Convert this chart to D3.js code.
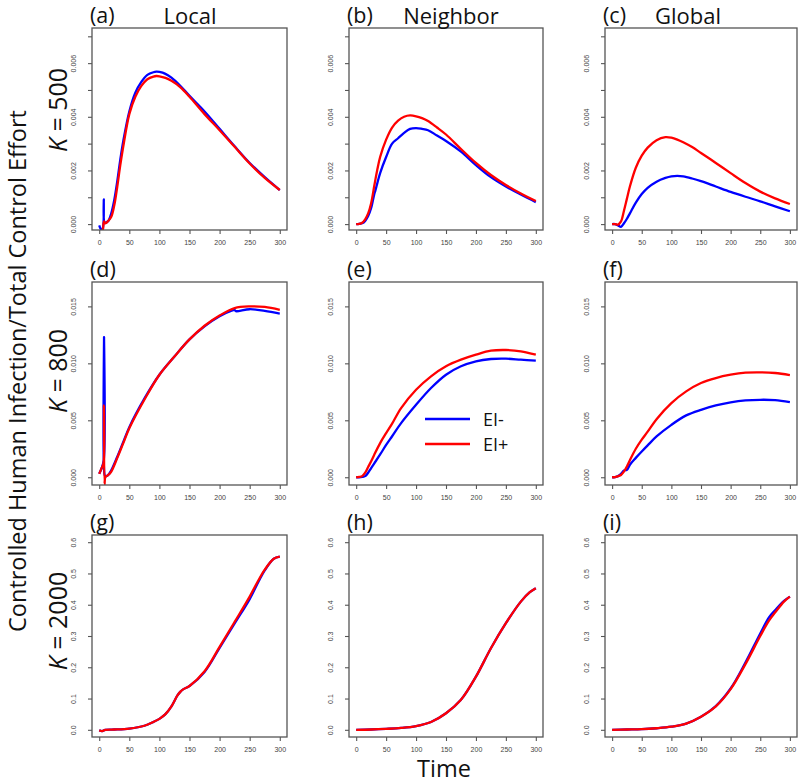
<!DOCTYPE html>
<html>
<head>
<meta charset="utf-8">
<script src="https://cdn.jsdelivr.net/npm/d3@7"></script>
<style>
  body { margin: 0; background: #fff; }
  .tick-lab { font-family: "Liberation Sans", Arial, sans-serif; font-size: 7px; fill: #444; }
  .big { font-family: "Open Sans", sans-serif; fill: #111; }
</style>
</head>
<body>
<div class="canva"></div>
<script>
// ---- data ----
const colTitles = ["Local", "Neighbor", "Global"];
const rowLabels = ["500", "800", "2000"];
const panelLetters = ["a", "b", "c", "d", "e", "f", "g", "h", "i"];
const xTicks = [0, 50, 100, 150, 200, 250, 300];
const yTicksRow1 = [0, 0.001, 0.002, 0.003, 0.004, 0.005, 0.006, 0.007];
const yLabelsRow1 = [0, 0.002, 0.004, 0.006];
const yTicksRow2 = [0, 0.005, 0.010, 0.015];
const yTicksRow3 = [0, 0.1, 0.2, 0.3, 0.4, 0.5, 0.6];
const legendNames = ["EI-", "EI+"];

// (a) Local, K = 500
const tBlueA = [0, 3, 5, 7, 7.6, 8.2, 10, 13, 16, 20, 25, 30, 35, 40, 50, 60, 70, 80, 90, 95, 100, 110, 120, 135, 150, 175, 200, 225, 250, 275, 300];
const blueA = [-0.00005, -0.0002, -0.0002, 0.0, 0.00092, 0.0001, 0.00005, 0.00008, 0.00015, 0.0004, 0.0009, 0.0016, 0.0024, 0.0031, 0.0042, 0.0049, 0.0053, 0.00556, 0.00566, 0.00568, 0.00567, 0.0056, 0.00546, 0.00515, 0.00478, 0.0042, 0.00355, 0.0029, 0.00228, 0.00175, 0.00127];
const tRedA = [4, 6, 7, 8, 9, 10, 12, 15, 20, 25, 30, 35, 40, 50, 60, 70, 80, 90, 95, 100, 110, 120, 135, 150, 175, 200, 225, 250, 275, 300];
const redA = [-0.0002, -0.0002, 0.0, 0.0001, 0.00005, 0.00003, 0.00005, 0.00012, 0.00027, 0.0007, 0.0014, 0.0022, 0.0029, 0.0041, 0.00475, 0.00515, 0.0054, 0.0055, 0.00552, 0.00551, 0.00545, 0.00534, 0.0051, 0.00475, 0.0041, 0.0035, 0.00288, 0.00226, 0.00172, 0.00127];

// (b) Neighbor, K = 500
const tB = [0, 5, 10, 15, 20, 25, 30, 32, 35, 40, 50, 60, 70, 80, 90, 100, 110, 120, 135, 150, 175, 200, 225, 250, 275, 300];
const blueB = [0, 0.00001, 0.00003, 0.00012, 0.0003, 0.0006, 0.0011, 0.00125, 0.0015, 0.0019, 0.0025, 0.003, 0.0032, 0.0034, 0.00355, 0.00358, 0.00355, 0.0035, 0.0033, 0.0031, 0.0027, 0.0022, 0.00175, 0.0014, 0.0011, 0.00082];
const redB = [0, 0.00001, 0.00005, 0.00018, 0.0004, 0.00078, 0.0014, 0.00165, 0.002, 0.0025, 0.00315, 0.0036, 0.00386, 0.004, 0.00405, 0.00402, 0.00395, 0.00384, 0.0036, 0.00334, 0.0028, 0.00228, 0.00183, 0.00146, 0.00114, 0.00086];

// (c) Global, K = 500
const tC = [0, 5, 10, 15, 20, 25, 30, 40, 50, 60, 75, 90, 100, 110, 120, 135, 150, 175, 200, 225, 250, 275, 300];
const blueC = [0, 0, -0.00005, -0.0001, 0.00003, 0.0002, 0.0004, 0.0008, 0.00112, 0.00135, 0.00158, 0.00172, 0.00178, 0.0018, 0.00178, 0.0017, 0.0016, 0.0014, 0.0012, 0.00102, 0.00085, 0.00066, 0.00048];
const redC = [0, 0, -0.00002, 0.0001, 0.0005, 0.00095, 0.0014, 0.0021, 0.00255, 0.00285, 0.00313, 0.00324, 0.00322, 0.00315, 0.00305, 0.00287, 0.00265, 0.00228, 0.0019, 0.00153, 0.00121, 0.00096, 0.00075];

// (d) Local, K = 800
const tBlueD = [0, 4, 7.5, 8, 8.6, 10, 12, 15, 20, 30, 40, 50, 75, 100, 125, 150, 175, 200, 220, 225, 227, 250, 275, 300];
const blueD = [0.0003, 0.0008, 0.0015, 0.0123, 0.0003, 0.0001, 0.0001, 0.0002, 0.0006, 0.0018, 0.0031, 0.0044, 0.0069, 0.009, 0.0106, 0.0121, 0.01325, 0.01413, 0.01462, 0.01468, 0.01458, 0.01475, 0.0146, 0.01437];
const tRedD = [0, 4, 7, 7.8, 8.8, 10, 12, 15, 20, 30, 40, 50, 75, 100, 125, 150, 175, 200, 225, 250, 275, 300];
const redD = [0.0003, 0.0008, 0.0012, 0.0063, -0.0006, 0.0, 0.0001, 0.0002, 0.0005, 0.0017, 0.003, 0.0043, 0.0068, 0.009, 0.0106, 0.0121, 0.0133, 0.0142, 0.01485, 0.015, 0.01495, 0.0147];

// (e) Neighbor, K = 800
const tE = [0, 5, 10, 15, 20, 25, 30, 40, 50, 60, 75, 100, 125, 150, 175, 200, 225, 250, 275, 300];
const blueE = [0, 0, 0.00003, 0.0001, 0.0004, 0.0008, 0.0012, 0.002, 0.00284, 0.0036, 0.00475, 0.00636, 0.00783, 0.009, 0.00974, 0.01018, 0.01038, 0.01041, 0.01032, 0.01023];
const redE = [0, 0.00003, 0.0001, 0.0004, 0.0009, 0.0014, 0.00196, 0.003, 0.00387, 0.0047, 0.00607, 0.00768, 0.00886, 0.00974, 0.01032, 0.01076, 0.01111, 0.01117, 0.01106, 0.01076];

// (f) Global, K = 800
const tF = [0, 5, 10, 15, 20, 25, 30, 40, 50, 60, 75, 100, 125, 150, 175, 200, 225, 250, 275, 300];
const blueF = [0, 0.00002, 0.0001, 0.0003, 0.0006, 0.00065, 0.0011, 0.0017, 0.00226, 0.0028, 0.00358, 0.0046, 0.00543, 0.00592, 0.0063, 0.00657, 0.00674, 0.0068, 0.00677, 0.0066];
const redF = [0, 0.00002, 0.0001, 0.0002, 0.0005, 0.00095, 0.0015, 0.0025, 0.0033, 0.004, 0.0051, 0.00651, 0.00754, 0.00827, 0.00871, 0.009, 0.00918, 0.00921, 0.00915, 0.00897];

// (g) Local, K = 2000
const tG = [0, 5, 10, 25, 50, 75, 90, 100, 110, 120, 130, 135, 140, 150, 175, 200, 225, 250, 265, 275, 290, 300];
const blueG = [-0.002, -0.004, 0, 0.001, 0.004, 0.013, 0.025, 0.035, 0.05, 0.075, 0.11, 0.122, 0.13, 0.14, 0.185, 0.262, 0.34, 0.418, 0.475, 0.51, 0.547, 0.554];
const redG = [-0.002, -0.004, 0, 0.001, 0.004, 0.013, 0.025, 0.035, 0.05, 0.075, 0.11, 0.122, 0.13, 0.14, 0.187, 0.265, 0.345, 0.426, 0.48, 0.512, 0.547, 0.554];

// (h) Neighbor, K = 2000
const tH = [0, 25, 50, 75, 100, 125, 150, 175, 200, 225, 250, 275, 290, 300];
const blueH = [0, 0.001, 0.003, 0.006, 0.012, 0.025, 0.053, 0.096, 0.17, 0.261, 0.341, 0.41, 0.44, 0.453];
const redH = [0, 0.001, 0.003, 0.006, 0.012, 0.025, 0.053, 0.096, 0.17, 0.261, 0.341, 0.41, 0.44, 0.453];

// (i) Global, K = 2000
const tI = [0, 25, 50, 75, 100, 125, 150, 175, 200, 225, 250, 265, 275, 290, 300];
const blueI = [0, 0.001, 0.002, 0.005, 0.01, 0.02, 0.042, 0.076, 0.132, 0.215, 0.308, 0.36, 0.382, 0.412, 0.426];
const redI = [0, 0.001, 0.002, 0.005, 0.01, 0.02, 0.042, 0.075, 0.13, 0.21, 0.3, 0.35, 0.375, 0.41, 0.426];

// ---- layout ----
const width = 800, height = 784;
const cols = [[92, 287], [349, 543], [605, 797]];
const rows = [[28, 230], [282, 485], [535, 737]];
const yDomains = [[-0.00022, 0.00731], [-0.00068, 0.01714], [-0.023, 0.623]];
const rowTicks = [yTicksRow1, yTicksRow2, yTicksRow3];
const rowFormats = [d3.format(".3f"), d3.format(".3f"), d3.format(".1f")];

const panels = [
  [tBlueA, blueA, tRedA, redA], [tB, blueB, tB, redB], [tC, blueC, tC, redC],
  [tBlueD, blueD, tRedD, redD], [tE, blueE, tE, redE], [tF, blueF, tF, redF],
  [tG, blueG, tG, redG], [tH, blueH, tH, redH], [tI, blueI, tI, redI]
];

const svg = d3.select(".canva").append("svg")
    .attr("width", width)
    .attr("height", height);

const blue = "#0000ff", red = "#ff0000", axisCol = "#555";

panels.forEach(function(p, k) {
  const r = Math.floor(k / 3), c = k % 3;
  const x = d3.scaleLinear().domain([-12, 312]).range(cols[c]);
  const y = d3.scaleLinear().domain(yDomains[r]).range([rows[r][1], rows[r][0]]);
  const g = svg.append("g");

  g.append("clipPath").attr("id", "clip" + k)
    .append("rect")
    .attr("x", cols[c][0]).attr("y", rows[r][0])
    .attr("width", cols[c][1] - cols[c][0]).attr("height", rows[r][1] - rows[r][0]);

  // x axis
  const xa = g.append("g")
      .attr("transform", `translate(0,${rows[r][1]})`)
      .call(d3.axisBottom(x).tickValues(xTicks).tickSize(4).tickPadding(6));
  // y axis
  const ya = g.append("g")
      .attr("transform", `translate(${cols[c][0]},0)`)
      .call(d3.axisLeft(y).tickValues(rowTicks[r]).tickSize(4)
        .tickFormat(d => (r === 0 && !yLabelsRow1.includes(d)) ? "" : rowFormats[r](d)));
  [xa, ya].forEach(a => {
    a.select(".domain").remove();
    a.selectAll(".tick line").attr("stroke", axisCol).attr("stroke-width", 1.1);
    a.selectAll(".tick text").attr("class", "tick-lab").attr("fill", null);
  });
  ya.selectAll(".tick text")
    .attr("x", null).attr("dy", null)
    .attr("text-anchor", "middle")
    .attr("transform", "translate(-16,0) rotate(-90)");

  const line = d3.line().x(d => x(d[0])).y(d => y(d[1])).curve(d3.curveCatmullRom.alpha(0.5));
  const series = [[p[0], p[1], blue], [p[2], p[3], red]];
  series.forEach(function(s) {
    g.append("path")
      .datum(d3.zip(s[0], s[1]))
      .attr("clip-path", `url(#clip${k})`)
      .attr("fill", "none")
      .attr("stroke", s[2])
      .attr("stroke-width", 2.3)
      .attr("stroke-linejoin", "round")
      .attr("d", line);
  });

  g.append("rect")
    .attr("x", cols[c][0]).attr("y", rows[r][0])
    .attr("width", cols[c][1] - cols[c][0]).attr("height", rows[r][1] - rows[r][0])
    .attr("fill", "none").attr("stroke", axisCol).attr("stroke-width", 1.3);

  g.append("text")
    .attr("class", "big")
    .attr("x", cols[c][0] - 2).attr("y", rows[r][0] - 5)
    .attr("font-size", 21.5)
    .text(`(${panelLetters[k]})`);
});

// column titles
const titleX = [190, 451, 688];
colTitles.forEach((t, i) => {
  svg.append("text").attr("class", "big")
    .attr("x", titleX[i]).attr("y", 23.5)
    .attr("text-anchor", "middle").attr("font-size", 22)
    .text(t);
});

// row labels K = ...
const kY = [110, 371, 621];
rowLabels.forEach((t, i) => {
  const tx = svg.append("text").attr("class", "big")
    .attr("text-anchor", "middle").attr("font-size", 25)
    .attr("transform", `translate(67,${kY[i]}) rotate(-90)`);
  tx.append("tspan").attr("font-style", "italic").text("K");
  tx.append("tspan").text(" = " + t);
});

// shared axis titles
svg.append("text").attr("class", "big")
  .attr("text-anchor", "middle").attr("font-size", 23.5)
  .attr("transform", "translate(25.5,371) rotate(-90)")
  .text("Controlled Human Infection/Total Control Effort");

svg.append("text").attr("class", "big")
  .attr("x", 444).attr("y", 777)
  .attr("text-anchor", "middle").attr("font-size", 23.5)
  .text("Time");

// legend in panel (e)
const legColors = [blue, red];
legendNames.forEach((n, i) => {
  const ly = 419 + i * 25;
  svg.append("line")
    .attr("x1", 425).attr("x2", 470).attr("y1", ly).attr("y2", ly)
    .attr("stroke", legColors[i]).attr("stroke-width", 2.3);
  svg.append("text").attr("class", "big")
    .attr("x", 483).attr("y", ly + 6.5)
    .attr("font-size", 18)
    .text(n);
});
</script>
</body>
</html>
